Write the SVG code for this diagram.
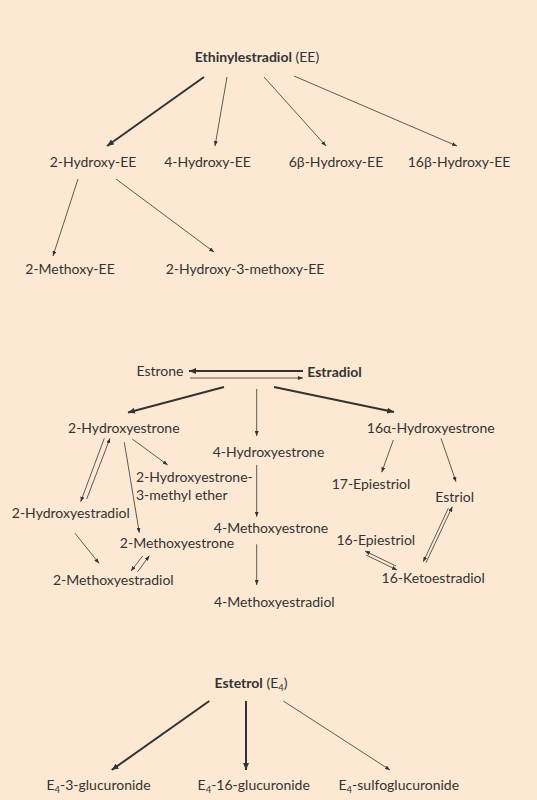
<svg xmlns="http://www.w3.org/2000/svg" width="537" height="800" viewBox="0 0 537 800">
<style>
text{font-family:Lato,"Liberation Sans",sans-serif;font-size:14px;fill:#333;text-anchor:middle}
text.l{text-anchor:start}
.b{font-weight:bold}
.sub{font-size:9.5px}
line{stroke:#333;fill:none}
.thin{stroke-width:0.8;marker-end:url(#ah)}
.thick{stroke-width:2;marker-end:url(#ahb)}
</style>
<defs>
<marker id="ah" markerUnits="userSpaceOnUse" viewBox="0 0 5 4" refX="5" refY="2" markerWidth="5" markerHeight="4" orient="auto"><path d="M0,0 L5,2 L0,4 z" fill="#333"/></marker>
<marker id="ahb" markerUnits="userSpaceOnUse" viewBox="0 0 7 6" refX="7" refY="3" markerWidth="7" markerHeight="6" orient="auto"><path d="M0,0 L7,3 L0,6 z" fill="#333"/></marker>
</defs>
<rect width="537" height="800" fill="#fde9d3"/>
<g id="connectors">
<line class="thick" x1="204" y1="77" x2="107" y2="146"/>
<line class="thin" x1="227" y1="77" x2="215" y2="146"/>
<line class="thin" x1="264" y1="77" x2="326" y2="146"/>
<line class="thin" x1="294" y1="76" x2="457" y2="146"/>
<line class="thin" x1="78" y1="179" x2="53" y2="256"/>
<line class="thin" x1="116" y1="179" x2="214" y2="252"/>
<line class="thick" x1="303" y1="371" x2="189" y2="371"/>
<line class="thin" x1="190" y1="378" x2="303" y2="378"/>
<line class="thick" x1="224" y1="387" x2="128" y2="412.5"/>
<line class="thin" x1="256.7" y1="389" x2="256.7" y2="436"/>
<line class="thick" x1="274" y1="387" x2="394" y2="412"/>
<line class="thin" x1="104.3" y1="438.3" x2="80.7" y2="501.7"/>
<line class="thin" x1="86.7" y1="499" x2="110" y2="438.3"/>
<line class="thin" x1="124.3" y1="442.3" x2="139.3" y2="532.7"/>
<line class="thin" x1="132.3" y1="439" x2="167.7" y2="465"/>
<line class="thin" x1="75" y1="533.3" x2="99" y2="563.3"/>
<line class="thin" x1="142.7" y1="556" x2="131" y2="571"/>
<line class="thin" x1="137.7" y1="571.7" x2="149.3" y2="555.7"/>
<line class="thin" x1="256.7" y1="465" x2="256.7" y2="516.7"/>
<line class="thin" x1="256.7" y1="544.3" x2="256.7" y2="585"/>
<line class="thin" x1="393.3" y1="440" x2="381.7" y2="472.3"/>
<line class="thin" x1="441" y1="438.3" x2="456" y2="481.7"/>
<line class="thin" x1="448.3" y1="508.3" x2="423.3" y2="561.7"/>
<line class="thin" x1="426" y1="562.7" x2="452.3" y2="506.7"/>
<line class="thin" x1="396" y1="566" x2="365" y2="551"/>
<line class="thin" x1="366" y1="555" x2="397" y2="570"/>
<line class="thick" x1="209.3" y1="701" x2="111.7" y2="770"/>
<line class="thick" x1="246" y1="701" x2="246" y2="770"/>
<line class="thin" x1="283.3" y1="701" x2="390" y2="770"/>
</g>
<g id="ee"><text x="257" y="62"><tspan class="b">Ethinylestradiol</tspan> (EE)</text></g>
<g id="oh2ee"><text x="93" y="167">2-Hydroxy-EE</text></g>
<g id="oh4ee"><text x="207.5" y="167">4-Hydroxy-EE</text></g>
<g id="oh6ee"><text x="336" y="167">6β-Hydroxy-EE</text></g>
<g id="oh16ee"><text x="459" y="167">16β-Hydroxy-EE</text></g>
<g id="meo2ee"><text x="70" y="274">2-Methoxy-EE</text></g>
<g id="oh2meo3ee"><text x="245" y="274">2-Hydroxy-3-methoxy-EE</text></g>
<g id="estrone"><text x="160" y="376">Estrone</text></g>
<g id="estradiol"><text class="b" x="334.5" y="376.5">Estradiol</text></g>
<g id="oh2e1"><text x="123.8" y="432.7">2-Hydroxyestrone</text></g>
<g id="oh4e1"><text x="268.5" y="457">4-Hydroxyestrone</text></g>
<g id="oh16e1"><text x="430.8" y="432.7">16α-Hydroxyestrone</text></g>
<g id="oh2e1me"><text class="l" x="136" y="481.7">2-Hydroxyestrone-</text><text class="l" x="136" y="500">3-methyl ether</text></g>
<g id="oh2e2"><text x="70.8" y="517.7">2-Hydroxyestradiol</text></g>
<g id="meo2e1"><text x="177" y="548.3">2-Methoxyestrone</text></g>
<g id="meo2e2"><text x="113.3" y="585">2-Methoxyestradiol</text></g>
<g id="meo4e1"><text x="271" y="532.7">4-Methoxyestrone</text></g>
<g id="meo4e2"><text x="274.3" y="606.7">4-Methoxyestradiol</text></g>
<g id="epi17"><text x="371" y="489.3">17-Epiestriol</text></g>
<g id="estriol"><text x="454.7" y="501.7">Estriol</text></g>
<g id="epi16"><text x="375.8" y="545">16-Epiestriol</text></g>
<g id="keto16"><text x="433.2" y="583.3">16-Ketoestradiol</text></g>
<g id="e4"><text x="251" y="688.3"><tspan class="b">Estetrol</tspan> (E<tspan class="sub" dy="3">4</tspan><tspan dy="-3">)</tspan></text></g>
<g id="e4g3"><text x="98.5" y="790">E<tspan class="sub" dy="3">4</tspan><tspan dy="-3">-3-glucuronide</tspan></text></g>
<g id="e4g16"><text x="253.7" y="790">E<tspan class="sub" dy="3">4</tspan><tspan dy="-3">-16-glucuronide</tspan></text></g>
<g id="e4sg"><text x="398.8" y="790">E<tspan class="sub" dy="3">4</tspan><tspan dy="-3">-sulfoglucuronide</tspan></text></g>
</svg>
